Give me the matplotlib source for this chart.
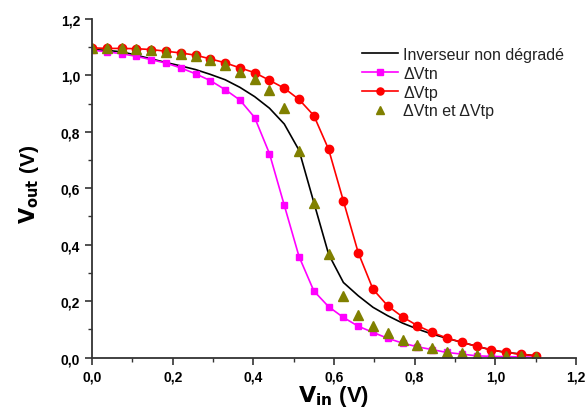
import matplotlib
matplotlib.use("Agg")
import matplotlib.pyplot as plt
from matplotlib.ticker import MultipleLocator, FuncFormatter

plt.rcParams['font.family'] = ['Liberation Sans', 'DejaVu Sans']

vin = [0.0, 0.0367, 0.0733, 0.11, 0.1467, 0.1833, 0.22, 0.2567, 0.2933, 0.33,
       0.3667, 0.4033, 0.44, 0.4767, 0.5133, 0.55, 0.5867, 0.6233, 0.66, 0.6967,
       0.7333, 0.77, 0.8067, 0.8433, 0.88, 0.9167, 0.9533, 0.99, 1.0267, 1.0633, 1.1]

# inverseur non degrade
vout_ref = [1.092, 1.089, 1.084, 1.072, 1.059, 1.046, 1.034, 1.021, 1.004, 0.985,
            0.958, 0.925, 0.884, 0.828, 0.735, 0.550, 0.366, 0.266, 0.219, 0.178,
            0.148, 0.122, 0.101, 0.083, 0.068, 0.054, 0.040, 0.027, 0.018, 0.012, 0.006]
# dVtn
vout_tn = [1.090, 1.084, 1.077, 1.068, 1.056, 1.044, 1.027, 1.006, 0.982, 0.950,
           0.913, 0.851, 0.723, 0.540, 0.358, 0.236, 0.180, 0.142, 0.111, 0.089,
           0.068, 0.051, 0.038, 0.028, 0.018, 0.012, 0.006, 0.004, 0.003, 0.002, 0.001]
# dVtp
vout_tp = [1.098, 1.096, 1.096, 1.095, 1.092, 1.086, 1.080, 1.072, 1.059, 1.045,
           1.027, 1.010, 0.983, 0.955, 0.915, 0.858, 0.738, 0.555, 0.372, 0.242,
           0.183, 0.144, 0.113, 0.089, 0.069, 0.054, 0.040, 0.027, 0.018, 0.012, 0.006]
# dVtn et dVtp
vout_both = [1.098, 1.098, 1.096, 1.095, 1.090, 1.084, 1.077, 1.068, 1.056, 1.036,
             1.012, 0.986, 0.947, 0.883, 0.732, 0.549, 0.366, 0.217, 0.152, 0.113,
             0.086, 0.063, 0.045, 0.034, 0.021, 0.015, 0.009, 0.007, 0.005, 0.004, 0.003]

fig = plt.figure(figsize=(5.87, 4.10), dpi=100)
ax = fig.add_axes([0.1567, 0.1256, 0.8246, 0.8254])

ax.plot(vin, vout_ref, color='black', lw=1.2, label='Inverseur non dégradé')
ax.plot(vin, vout_tn, color='#FF00FF', lw=1.2, marker='s', ms=5, label='ΔVtn')
ax.plot(vin, vout_tp, color='#FF0000', lw=1.2, marker='o', ms=6, label='ΔVtp')
ax.plot(vin, vout_both, ls='none', color='#808000', marker='^', ms=7, label='ΔVtn et ΔVtp')

ax.set_xlim(0, 1.2)
ax.set_ylim(0, 1.2)
for s in ['top', 'right']:
    ax.spines[s].set_visible(False)
for s in ['left', 'bottom']:
    ax.spines[s].set_linewidth(1.3)
    ax.spines[s].set_color('#333333')

ax.xaxis.set_major_locator(MultipleLocator(0.2))
ax.xaxis.set_minor_locator(MultipleLocator(0.1))
ax.yaxis.set_major_locator(MultipleLocator(0.2))
ax.yaxis.set_minor_locator(MultipleLocator(0.1))
fmt = FuncFormatter(lambda v, pos: ('%.1f' % v).replace('.', ','))
ax.xaxis.set_major_formatter(fmt)
ax.yaxis.set_major_formatter(fmt)
ax.tick_params(which='major', direction='out', length=5, width=1.2, color='#333333',
               labelsize=10)
ax.tick_params(which='minor', direction='out', length=3, width=1.0, color='#333333')
for lbl in ax.get_xticklabels() + ax.get_yticklabels():
    lbl.set_fontweight('bold')

ax.set_xlabel(r'$\mathbf{V_{in}}$ (V)', fontsize=16, fontweight='bold', labelpad=0)
ax.set_ylabel(r'$\mathbf{V_{out}}$ (V)', fontsize=15, fontweight='bold')
ax.yaxis.set_label_coords(-0.105, 0.515)

leg = ax.legend(loc='upper left', bbox_to_anchor=(0.616, 0.883),
                bbox_transform=fig.transFigure, frameon=False, fontsize=11.5,
                borderpad=0, borderaxespad=0, handlelength=2.25,
                handletextpad=0.37, labelspacing=0.24, markerscale=0.85)
for t in leg.get_texts():
    t.set_color('#222222')

fig.savefig('out.png', dpi=100)
